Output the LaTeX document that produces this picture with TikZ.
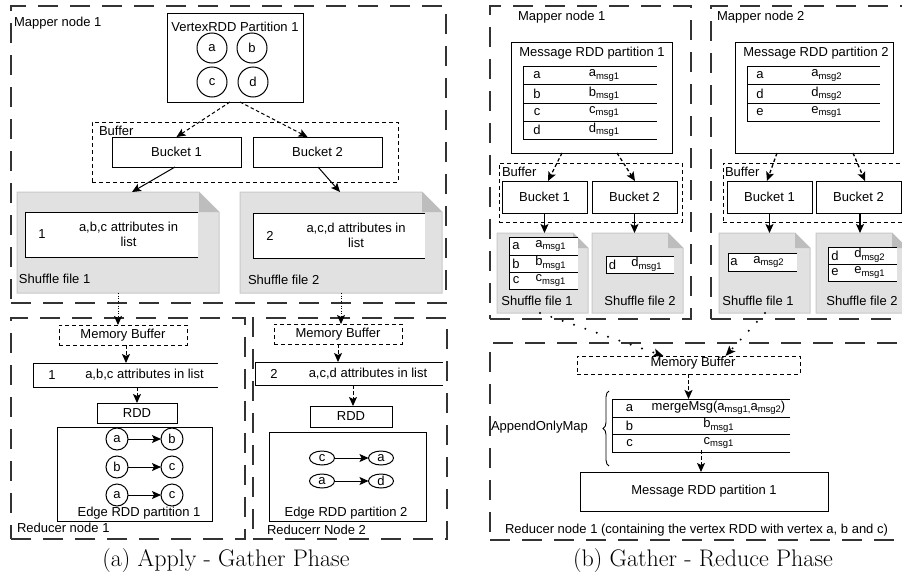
\documentclass[tikz,border=0pt]{standalone}
\usepackage{fontspec}
\newfontfamily\lsans{Liberation Sans}
\usetikzlibrary{arrows.meta,shapes.geometric,decorations.pathreplacing,calc}
\definecolor{bigdash}{HTML}{333333}
\definecolor{notefill}{HTML}{E1E1E1}
\definecolor{notedraw}{HTML}{C9C9C9}
\definecolor{foldfill}{HTML}{BDBDBD}
\newcommand\sbs[1]{\raisebox{-2.5pt}{\fontsize{9.5}{10}\selectfont #1}}
\tikzset{
 every node/.style={font=\lsans\fontsize{13}{15.5}\selectfont, inner sep=0pt, outer sep=0pt},
 bigbox/.style={draw=bigdash, line width=1.3pt, dash pattern=on 20pt off 12pt},
 smalldash/.style={draw, line width=0.9pt, dash pattern=on 4pt off 3pt},
 box/.style={draw, line width=1pt},
 arr/.style={-{Stealth[length=9pt,width=8pt,inset=2pt]}, line width=1pt},
 darr/.style={arr, dash pattern=on 3.5pt off 2.5pt},
 dotarr/.style={arr, dash pattern=on 1pt off 1.5pt},
 bigdot/.style={-{Stealth[length=10pt,width=8pt,inset=2pt]}, line width=2.2pt, line cap=round, dash pattern=on 0pt off 12pt},
 cell/.style={inner sep=0pt, align=center},
 vc/.style={circle, draw, line width=1pt, minimum size=30pt, fill=white},
 ec/.style={circle, draw, line width=1pt, minimum size=22pt, fill=white},
 ee/.style={ellipse, draw, line width=1pt, minimum width=25pt, minimum height=14pt, fill=white},
 captxt/.style={font={\rmfamily\fontsize{24}{28}\selectfont}},
}
% table row: L D R top bottom lefttext righttext name
\newcommand\trow[8]{%
 \node[cell, draw, fill=white, line width=1pt, minimum width={(#2-#1)*1pt}, minimum height={(#5-#4)*1pt}] (#8l) at ({(#1+#2)/2},{(#4+#5)/2}) {#6};
 \node[cell, fill=white, minimum width={(#3-#2)*1pt}, minimum height={(#5-#4)*1pt}] (#8r) at ({(#2+#3)/2},{(#4+#5)/2}) {#7};
 \draw[line width=1pt] (#8r.north west) -- (#8r.north east) (#8r.south west) -- (#8r.south east);
}
% note-like shuffle file: x1 y1 x2 y2 fold name
\newcommand\notefile[6]{%
 \node[minimum width={(#3-#1)*1pt}, minimum height={(#4-#2)*1pt}] (#6) at ({(#1+#3)/2},{(#2+#4)/2}) {};
 \filldraw[fill=notefill, draw=notedraw, line width=1pt] (#6.south west) -- (#6.north west) -- ([xshift=-#5pt]#6.north east) -- ([yshift=-#5pt]#6.north east) -- (#6.south east) -- cycle;
 \fill[foldfill] ([xshift=-#5pt]#6.north east) -- ([xshift=-#5pt,yshift=-#5pt]#6.north east) -- ([yshift=-#5pt]#6.north east) -- cycle;
}
\begin{document}
\begin{tikzpicture}[x=1pt,y=-1pt]
\useasboundingbox (0,0) rectangle (902,581);
\clip (0,0) rectangle (902,581);
\fill[white] (0,0) rectangle (902,581);

% ================= Panel (a) =================
\node[bigbox, minimum width=435pt, minimum height=297pt] (mapA) at (228.5,154.5) {};
\node[anchor=west] (mapAl) at (14,23) {Mapper node 1};

\node[box, minimum width=136pt, minimum height=89pt] (vrdd) at (235,57.5) {};
\node (vrddt) at (235,27) {VertexRDD Partition 1};
\node[vc] (va) at (212,48) {a};
\node[vc] (vb) at (252,48) {b};
\node[vc] (vcc) at (212,82) {c};
\node[vc] (vd) at (253,82) {d};

\node[smalldash, minimum width=306pt, minimum height=60pt] (bufA) at (245,152) {};
\node[anchor=west] (bufAl) at (99,131) {Buffer};
\node[box, minimum width=129pt, minimum height=30pt] (bk1) at (176.5,152) {Bucket 1};
\node[box, minimum width=129pt, minimum height=30pt] (bk2) at (317.5,152) {Bucket 2};
\draw[darr] ([xshift=-5pt]vrdd.south) -- (bk1.north);
\draw[darr] ([xshift=5pt]vrdd.south) -- ([xshift=-10pt]bk2.north);

\notefile{17}{192}{219}{293}{20}{sf1}
\notefile{240}{192}{442}{293}{20}{sf2}
\trow{25}{59}{198}{212}{257}{1}{a,b,c attributes in\\list}{sra}
\trow{253}{287}{425}{213}{258}{2}{a,c,d attributes in\\list}{srb}
\node[anchor=west] (sf1l) at (19,279) {Shuffle file 1};
\node[anchor=west] (sf2l) at (248,280) {Shuffle file 2};
\draw[arr] ([xshift=-1.5pt]bk1.south) -- ([xshift=14pt]sf1.north);
\draw[arr] ([xshift=0.5pt]bk2.south) -- ([xshift=-1pt]sf2.north);

\node[bigbox, minimum width=234pt, minimum height=221pt] (redA1) at (128,428.5) {};
\node[bigbox, minimum width=194pt, minimum height=221pt] (redA2) at (350,428.5) {};
\node[anchor=west] (redA1l) at (17,528) {Reducer node 1};
\node[anchor=west] (redA2l) at (267,530) {Reducerr Node 2};

\node[smalldash, minimum width=128pt, minimum height=20pt] (mb1) at (123,335) {Memory Buffer};
\node[smalldash, minimum width=128pt, minimum height=20pt] (mb2) at (338,334) {Memory Buffer};
\draw[dotarr] (sf1.south) -- ([xshift=-5pt]mb1.north);
\draw[dotarr] (sf2.south) -- ([xshift=3pt]mb2.north);

\trow{33}{71}{218}{363}{387}{1}{a,b,c attributes in list}{rra}
\trow{255}{293}{443}{362}{385}{2}{a,c,d attributes in list}{rrb}
\draw[darr] ($(mb1.south)+(3pt,0)$) -- ($(mb1.south |- rrar.north)+(3pt,0)$);
\draw[darr] ($(mb2.south)+(0pt,0)$) -- ($(mb2.south |- rrbr.north)+(0pt,0)$);

\node[box, minimum width=80pt, minimum height=20pt] (rdd1) at (137,413) {RDD};
\node[box, minimum width=82pt, minimum height=21pt] (rdd2) at (351,416.5) {RDD};
\draw[darr] (rdd1.north |- rrar.south) -- (rdd1.north);
\draw[darr] ($(rdd2.north |- rrbr.south)+(2pt,0)$) -- ($(rdd2.north)+(2pt,0)$);

\node[box, minimum width=155pt, minimum height=94pt] (edge1) at (134.5,474) {};
\node (edge1l) at (139,513) {Edge RDD partition 1};
\node[ec] (e1a) at (117,439) {a};
\node[ec] (e1b) at (172,439) {b};
\node[ec] (e2a) at (117,467) {b};
\node[ec] (e2b) at (172,467) {c};
\node[ec] (e3a) at (117,495) {a};
\node[ec] (e3b) at (172,495) {c};
\draw[arr] (e1a) -- (e1b);
\draw[arr] (e2a) -- (e2b);
\draw[arr] (e3a) -- (e3b);

\node[box, minimum width=157pt, minimum height=89pt] (edge2) at (347.5,476.5) {};
\node (edge2l) at (346,513) {Edge RDD partition 2};
\node[ee] (f1a) at (322,458) {c};
\node[ee] (f1b) at (381,458) {a};
\node[ee] (f2a) at (322,481) {a};
\node[ee] (f2b) at (381,481) {d};
\draw[arr] (f1a) -- (f1b);
\draw[arr] (f2a) -- (f2b);

\node[captxt] (capa) at (226,561) {(a) Apply - Gather Phase};

% ================= Panel (b) =================
\node[bigbox, minimum width=201pt, minimum height=313pt] (mapB1) at (590.5,162.5) {};
\node[bigbox, minimum width=204pt, minimum height=313pt] (mapB2) at (813,162.5) {};
\node[anchor=west] (mapB1l) at (518,17) {Mapper node 1};
\node[anchor=west] (mapB2l) at (717,17) {Mapper node 2};

\node[box, minimum width=161pt, minimum height=111pt] (mrdd1) at (591.5,97.5) {};
\node (mrdd1t) at (592,53) {Message RDD partition 1};
\trow{523}{551}{657}{66}{84.5}{a}{a\sbs{msg1}}{ta}
\trow{523}{551}{657}{84.5}{103}{b}{b\sbs{msg1}}{tb}
\trow{523}{551}{657}{103}{121}{c}{c\sbs{msg1}}{tc}
\trow{523}{551}{657}{121}{139}{d}{d\sbs{msg1}}{td}

\node[box, minimum width=158pt, minimum height=111pt] (mrdd2) at (814,97.5) {};
\node (mrdd2t) at (816,53) {Message RDD partition 2};
\trow{747}{773}{880}{66}{84.5}{a}{a\sbs{msg2}}{ua}
\trow{747}{773}{880}{84.5}{103}{d}{d\sbs{msg2}}{ud}
\trow{747}{773}{880}{103}{121}{e}{e\sbs{msg1}}{ue}

\node[smalldash, minimum width=183pt, minimum height=59pt] (bufB1) at (590.5,192.5) {};
\node[anchor=west] (bufB1l) at (502,172) {Buffer};
\node[box, minimum width=85pt, minimum height=32pt] (bkb1) at (544.5,197) {Bucket 1};
\node[box, minimum width=85pt, minimum height=32pt] (bkb2) at (634.5,197) {Bucket 2};

\node[smalldash, minimum width=192pt, minimum height=59pt] (bufB2) at (819,192.5) {};
\node[anchor=west] (bufB2l) at (725,172) {Buffer};
\node[box, minimum width=85pt, minimum height=32pt] (bkb3) at (769.5,197) {Bucket 1};
\node[box, minimum width=85pt, minimum height=32pt] (bkb4) at (858.5,197) {Bucket 2};

\draw[darr, line width=1.3pt] ([xshift=-29.5pt]mrdd1.south) -- ([xshift=3.5pt]bkb1.north);
\draw[darr, line width=1.3pt] ([xshift=25.5pt]mrdd1.south) -- ([xshift=0.5pt]bkb2.north);
\draw[darr, line width=1.3pt] ([xshift=-37pt]mrdd2.south) -- ([xshift=-2.5pt]bkb3.north);
\draw[darr, line width=1.3pt] ([xshift=39pt]mrdd2.south) -- ([xshift=6.5pt]bkb4.north);

\notefile{497}{233}{588}{313}{15}{sfb1}
\notefile{592}{233}{683}{313}{15}{sfb2}
\notefile{719}{233}{810}{313}{15}{sfb3}
\notefile{816}{233}{907}{313}{15}{sfb4}

\draw[arr] (bkb1.south) -- (bkb1.south |- sfb1.north);
\draw[arr] (bkb2.south) -- (bkb2.south |- sfb2.north);
\draw[arr] (bkb3.south) -- (bkb3.south |- sfb3.north);
\draw[arr, line width=1.6pt] ($(bkb4.south)+(1.5pt,0)$) -- ($(bkb4.south |- sfb4.north)+(1.5pt,0)$);

\trow{509}{523}{578}{237}{255}{a}{a\sbs{msg1}}{sa}
\trow{509}{523}{578}{255}{272}{b}{b\sbs{msg1}}{sb}
\trow{509}{523}{578}{272}{289}{c}{c\sbs{msg1}}{sc}
\trow{606}{619}{674}{256}{273}{d}{d\sbs{msg1}}{sd}
\trow{728}{740}{797}{253}{271}{a}{a\sbs{msg2}}{se}
\trow{828}{842}{897}{247}{264}{d}{d\sbs{msg2}}{sf}
\trow{828}{842}{897}{264}{281}{e}{e\sbs{msg1}}{sg}
\node (sfb1l) at (537,301) {Shuffle file 1};
\node (sfb2l) at (640,301) {Shuffle file 2};
\node (sfb3l) at (758,301) {Shuffle file 1};
\node (sfb4l) at (862,301) {Shuffle file 2};

\node[bigbox, minimum width=425pt, minimum height=197pt] (redB) at (702.5,441.5) {};
\node[anchor=west] (redBl) at (505,530) {Reducer node 1 (containing the vertex RDD with vertex a, b and c)};

\node[smalldash, minimum width=223pt, minimum height=18pt] (mbb) at (688.5,365) {};
\node (mbbl) at (693,363) {Memory Buffer};
\draw[bigdot] ($(sfb1.south)+(-2.5pt,0)$) -- ($(mbb.north)+(-25pt,0)$);
\draw[bigdot] ($(sfb3.south)+(0.5pt,0)$) -- ($(mbb.north)+(37pt,0)$);

\trow{612}{647}{790}{399}{417}{a}{mergeMsg(a\sbs{msg1,}a\sbs{msg2})}{ma}
\trow{612}{647}{790}{417}{434}{b}{b\sbs{msg1}}{mb}
\trow{612}{647}{790}{434}{452}{c}{c\sbs{msg1}}{mc}
\draw[darr] (mbb.south) -- (mbb.south |- mar.north);
\draw[line width=0.9pt, decorate, decoration={brace, amplitude=6pt}] (609,466) -- (609,391);
\node[anchor=west] (aoml) at (491,427) {AppendOnlyMap};

\node[box, minimum width=248pt, minimum height=39pt] (mrddb) at (704,491.5) {Message RDD partition 1};
\draw[darr] ($(mrddb.north |- mcr.south)+(-3pt,2pt)$) -- ($(mrddb.north)+(-3pt,0)$);

\node[captxt] (capb) at (703,561) {(b) Gather - Reduce Phase};
\end{tikzpicture}
\end{document}
